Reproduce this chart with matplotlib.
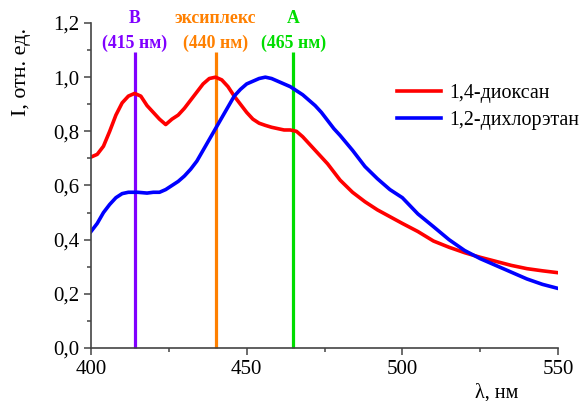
import matplotlib
matplotlib.use("Agg")
import matplotlib.pyplot as plt
from matplotlib.ticker import MultipleLocator, FuncFormatter

wl_diox = [400, 402, 404, 406, 408, 410, 412, 414, 416, 418, 420, 422, 424, 426, 428, 430, 432, 434, 436, 438,
           440, 442, 444, 446, 448, 450, 452, 454, 456, 458, 460, 462, 464, 466, 468, 470, 472, 474, 476, 478,
           480, 484, 488, 492, 496, 500, 505, 510, 515, 520, 525, 530, 535, 540, 545, 550]
i_diox = [0.705, 0.715, 0.745, 0.80, 0.86, 0.905, 0.93, 0.94, 0.93, 0.895, 0.87, 0.845, 0.825, 0.845, 0.86,
          0.885, 0.915, 0.945, 0.975, 0.995, 1.0, 0.99, 0.965, 0.93, 0.90, 0.87, 0.845, 0.83, 0.822, 0.815,
          0.81, 0.805, 0.805, 0.80, 0.78, 0.755, 0.73, 0.705, 0.68, 0.65, 0.62, 0.575, 0.54, 0.51, 0.485, 0.46,
          0.43, 0.395, 0.372, 0.352, 0.335, 0.32, 0.305, 0.293, 0.285, 0.278]

wl_dce = [400, 402, 404, 406, 408, 410, 412, 415, 418, 420, 422, 424, 426, 428, 430, 432, 434, 436, 438, 440,
          442, 444, 446, 448, 450, 452, 454, 456, 458, 460, 462, 464, 466, 468, 470, 472, 474, 476, 478, 480,
          484, 488, 492, 496, 500, 505, 510, 515, 520, 525, 530, 535, 540, 545, 550]
i_dce = [0.43, 0.46, 0.50, 0.53, 0.555, 0.57, 0.575, 0.575, 0.572, 0.575, 0.575, 0.585, 0.60, 0.615, 0.635,
         0.66, 0.69, 0.73, 0.77, 0.81, 0.85, 0.89, 0.93, 0.955, 0.975, 0.985, 0.995, 1.0, 0.995, 0.985, 0.975,
         0.965, 0.95, 0.935, 0.915, 0.895, 0.87, 0.84, 0.81, 0.785, 0.73, 0.67, 0.625, 0.585, 0.555, 0.495,
         0.448, 0.40, 0.36, 0.33, 0.305, 0.28, 0.255, 0.235, 0.22]

series_labels = ["1,4-диоксан", "1,2-дихлорэтан"]
marker_wl = [414, 440, 465]
marker_top = ["B", "эксиплекс", "A"]
marker_bottom = ["(415 нм)", "(440 нм)", "(465 нм)"]
marker_colors = ["#8000FF", "#FF8000", "#00DD00"]

plt.rcParams['font.family'] = ['Liberation Serif', 'DejaVu Serif']

fig = plt.figure(figsize=(5.87, 4.01), dpi=100)
ax = fig.add_axes([91/587, 53/401, (558-91)/587, (348-23)/401])

for w, c in zip(marker_wl, marker_colors):
    ax.plot([w, w], [0, 1.093], color=c, lw=2.3, solid_capstyle='butt', zorder=1, clip_on=False)

l1, = ax.plot(wl_diox, i_diox, color="#FF0000", lw=2.6, label=series_labels[0], zorder=2)
l2, = ax.plot(wl_dce, i_dce, color="#0000FF", lw=2.6, label=series_labels[1], zorder=2)

for w, t, b, c in zip(marker_wl, marker_top, marker_bottom, marker_colors):
    ax.text(w, 1.215, t, color=c, fontsize=12.8, fontweight='bold', ha='center', va='center', clip_on=False)
    ax.text(w, 1.125, b, color=c, fontsize=12.8, fontweight='bold', ha='center', va='center', clip_on=False)

ax.set_xlim(400, 550)
ax.set_ylim(0, 1.2)
ax.xaxis.set_major_locator(MultipleLocator(50))
ax.xaxis.set_minor_locator(MultipleLocator(25))
ax.yaxis.set_major_locator(MultipleLocator(0.2))
ax.yaxis.set_minor_locator(MultipleLocator(0.1))
ax.yaxis.set_major_formatter(FuncFormatter(lambda v, p: f"{v:.1f}".replace('.', ',')))
for s in ['top', 'right']:
    ax.spines[s].set_visible(False)
for s in ['left', 'bottom']:
    ax.spines[s].set_color('#444444')
    ax.spines[s].set_linewidth(1.2)
ax.tick_params(which='major', direction='out', length=5, width=1.1, labelsize=15, colors='#444444', labelcolor='black')
ax.tick_params(which='minor', direction='out', length=3, width=1.1, colors='#444444')

fig.text(22/587, 1 - 72/401, "I, отн. ед.", rotation=90, ha='center', va='center', fontsize=15.8)
fig.text(497/587, 1 - 393/401, "λ, нм", ha='center', va='center', fontsize=14.5)

ax.legend(handles=[l1, l2], loc='upper left', bbox_to_anchor=(397/587, 1 - 84/401),
          bbox_transform=fig.transFigure, frameon=False, fontsize=14.4, handlelength=2.2,
          handletextpad=0.4, labelspacing=0.4, borderpad=0, borderaxespad=0)

fig.savefig("out.png", dpi=100)
